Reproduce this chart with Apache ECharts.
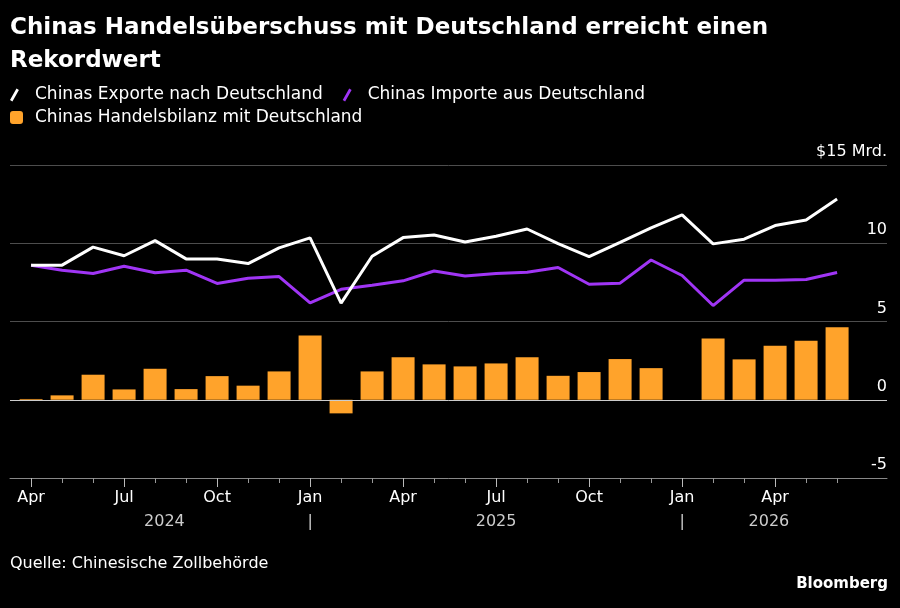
<!DOCTYPE html>
<html>
<head>
<meta charset="utf-8">
<script src="https://cdn.jsdelivr.net/npm/echarts@6/dist/echarts.min.js"></script>
<style>
  html, body { margin: 0; padding: 0; background: #000; }
  #chart { width: 900px; height: 608px; }
</style>
</head>
<body>
<div id="chart"></div>
<script>
// months from Apr 2024 to Jun 2026
var months = ['Apr', 'Mai', 'Jun', 'Jul', 'Aug', 'Sep', 'Oct', 'Nov', 'Dez',
              'Jan', 'Feb', 'Mär', 'Apr', 'Mai', 'Jun', 'Jul', 'Aug', 'Sep', 'Oct', 'Nov', 'Dez',
              'Jan', 'Feb', 'Mär', 'Apr', 'Mai', 'Jun'];
var exporte = [8.6, 8.6, 9.75, 9.2, 10.17, 9.0, 9.0, 8.7, 9.7, 10.34, 6.17, 9.17, 10.36, 10.53,
               10.08, 10.45, 10.91, 9.98, 9.15, 10.05, 10.98, 11.81, 9.96, 10.26, 11.13, 11.49, 12.83];
var importe = [8.6, 8.28, 8.07, 8.53, 8.11, 8.28, 7.43, 7.77, 7.87, 6.19, 7.06, 7.32, 7.6, 8.23,
               7.91, 8.07, 8.15, 8.45, 7.38, 7.45, 8.93, 7.94, 6.02, 7.64, 7.64, 7.68, 8.13];
var bilanz = [0.05, 0.28, 1.6, 0.66, 1.98, 0.68, 1.51, 0.9, 1.81, 4.11, -0.87, 1.81, 2.72, 2.26,
              2.13, 2.32, 2.72, 1.53, 1.77, 2.6, 2.02, null, 3.92, 2.58, 3.45, 3.77, 4.64];
var yTicks = [-5, 0, 5, 10, 15];
var yearLabels = [[4.3, '2024'], [9, '|'], [15, '2025'], [21, '|'], [23.8, '2026']];

var font = 'DejaVu Sans';
var xMin = -0.68, xMax = 27.61;

// legend icons: slash / rounded square, padded to a 20px wide box
var slashIcon = 'path://M0,0 L0,0 Z M0,12.5 L6.5,1 L8.9,2.4 L2.4,13.9 Z M20,14 L20,14 Z';
var squareIcon = 'path://M0,3 Q0,0 3,0 L10,0 Q13,0 13,3 L13,10 Q13,13 10,13 L3,13 Q0,13 0,10 Z M20,13 L20,13 Z';

function pairs(arr) {
  var out = [];
  for (var i = 0; i < arr.length; i++) out.push([i, arr[i]]);
  return out;
}
var allIdx = [], majorIdx = [];
for (var i = 0; i < months.length; i++) {
  allIdx.push(i);
  if (i % 3 === 0) majorIdx.push(i);
}

var legendBase = {
  left: 5, itemWidth: 20, itemHeight: 14, itemGap: 20,
  textStyle: { color: '#fff', fontSize: 17, fontFamily: font }
};

var chart = echarts.init(document.getElementById('chart'));
var option = {
  backgroundColor: '#000',
  animation: false,
  textStyle: { fontFamily: font },
  title: [{
    text: 'Chinas Handelsüberschuss mit Deutschland erreicht einen\nRekordwert',
    left: 5, top: 7,
    textStyle: { color: '#fff', fontSize: 23, fontWeight: 'bold', fontFamily: font, lineHeight: 33 }
  }, {
    text: 'Quelle: Chinesische Zollbehörde',
    left: 5, top: 551,
    textStyle: { color: '#fff', fontSize: 16, fontWeight: 'normal', fontFamily: font }
  }, {
    text: 'Bloomberg',
    right: 7, top: 572,
    textStyle: { color: '#fff', fontSize: 15, fontWeight: 'bold', fontFamily: font }
  }],
  legend: [
    echarts.util.extend({
      top: 81,
      data: [
        { name: 'Chinas Exporte nach Deutschland', icon: slashIcon },
        { name: 'Chinas Importe aus Deutschland', icon: slashIcon }
      ]
    }, legendBase),
    echarts.util.extend({
      top: 104,
      data: [{ name: 'Chinas Handelsbilanz mit Deutschland', icon: squareIcon }]
    }, legendBase)
  ],
  grid: { left: 10, right: 13, top: 165, bottom: 130 },
  xAxis: [{
    type: 'value', min: xMin, max: xMax,
    axisLine: { show: true, onZero: false, lineStyle: { color: '#888', width: 1 } },
    axisTick: { show: true, customValues: allIdx, length: 5, lineStyle: { color: '#999' } },
    axisLabel: { show: false },
    splitLine: { show: false }
  }, {
    type: 'value', min: xMin, max: xMax, position: 'bottom',
    axisLine: { show: false, onZero: false },
    axisTick: { show: true, customValues: majorIdx, length: 9, lineStyle: { color: '#bbb' } },
    axisLabel: {
      customValues: majorIdx, color: '#fff', fontSize: 16, margin: 12,
      formatter: function (v) { return months[Math.round(v)]; }
    },
    splitLine: { show: false }
  }, {
    type: 'value', min: xMin, max: xMax, position: 'bottom', offset: 30,
    axisLine: { show: false, onZero: false },
    axisTick: { show: false },
    axisLabel: {
      customValues: yearLabels.map(function (d) { return d[0]; }),
      color: '#ccc', fontSize: 16, margin: 6,
      formatter: function (v) {
        for (var k = 0; k < yearLabels.length; k++) if (yearLabels[k][0] === v) return yearLabels[k][1];
        return '';
      }
    },
    splitLine: { show: false }
  }],
  yAxis: {
    type: 'value', min: -5, max: 15, interval: 5, position: 'right',
    axisLine: { show: false }, axisTick: { show: false },
    axisLabel: {
      inside: true, margin: 0, color: '#fff', fontSize: 16,
      verticalAlign: 'bottom', padding: [0, 0, 5, 0],
      formatter: function (v) { return v === 15 ? '$15 Mrd.' : String(v); }
    },
    splitLine: { show: true, lineStyle: { color: '#4d4d4d', width: 1 } }
  },
  series: [{
    name: 'Chinas Handelsbilanz mit Deutschland',
    type: 'bar', xAxisIndex: 0, barWidth: 23,
    itemStyle: { color: '#ffa32b' },
    data: pairs(bilanz),
    markLine: {
      silent: true, symbol: 'none', label: { show: false },
      lineStyle: { color: '#ccc', width: 1, type: 'solid' },
      data: [{ yAxis: 0 }]
    }
  }, {
    name: 'Chinas Importe aus Deutschland',
    type: 'line', xAxisIndex: 0, showSymbol: false,
    lineStyle: { color: '#a035f5', width: 3 }, itemStyle: { color: '#a035f5' },
    data: pairs(importe)
  }, {
    name: 'Chinas Exporte nach Deutschland',
    type: 'line', xAxisIndex: 0, showSymbol: false,
    lineStyle: { color: '#fff', width: 3 }, itemStyle: { color: '#fff' },
    data: pairs(exporte)
  }]
};
chart.setOption(option);
</script>
</body>
</html>
